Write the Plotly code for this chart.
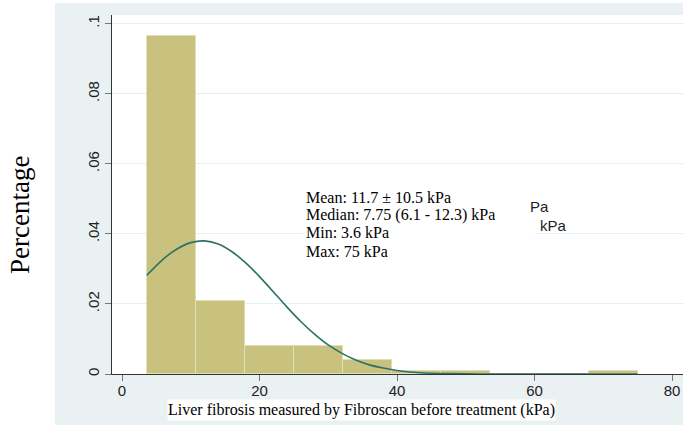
import plotly.graph_objects as go

# ---- data ----
bin_start = 3.6
bin_width = 7.14
bin_counts = [97, 21, 8, 8, 4, 1, 1, 0, 0, 1]

curve_x = [3.6, 6, 8, 10, 12, 14, 16, 18, 20, 22, 24, 26, 28, 30, 32, 34, 36, 38, 40, 44, 48, 52, 56, 60, 65, 70, 75]
curve_y = [0.0282, 0.0328, 0.0357, 0.0375, 0.0380, 0.0371, 0.0349, 0.0317, 0.0278, 0.0235, 0.0191,
           0.0150, 0.0114, 0.0083, 0.0059, 0.0040, 0.0026, 0.0017, 0.0010, 0.0003, 0.0001, 0.00002,
           0.0, 0.0, 0.0, 0.0, 0.0]

x_ticks = [0, 20, 40, 60, 80]
y_ticks = [0, 0.02, 0.04, 0.06, 0.08, 0.1]
y_ticktext = ["0", ".02", ".04", ".06", ".08", ".1"]

stats_lines = ["Mean: 11.7 \u00b1 10.5 kPa", "Median: 7.75 (6.1 - 12.3) kPa", "Min: 3.6 kPa", "Max: 75 kPa"]
x_title = "Liver fibrosis measured by Fibroscan before treatment (kPa)"
y_title = "Percentage"

# ---- derived ----
n_total = sum(bin_counts)
bin_centers = [bin_start + bin_width * (i + 0.5) for i in range(len(bin_counts))]
densities = [c / (n_total * bin_width) for c in bin_counts]

W, H = 683, 425
L, R, T, B = 112, 0, 15, 51
PW, PH = W - L - R, H - T - B


def px2x(px):
    return (px - L) / PW


def py2y(py):
    return (H - B - py) / PH


serif = "Liberation Serif, Times New Roman, serif"
sans = "Liberation Sans, Arial, Helvetica, sans-serif"
bgblue = "#eaf1f3"

fig = go.Figure()
fig.add_trace(go.Bar(
    x=bin_centers, y=densities, width=bin_width,
    marker=dict(color="#c9c27f", line=dict(color="#e3dfb4", width=1)),
    hoverinfo="skip", showlegend=False,
))
fig.add_trace(go.Scatter(
    x=curve_x, y=curve_y, mode="lines",
    line=dict(color="#2a7366", width=1.6, shape="spline", smoothing=0.6),
    hoverinfo="skip", showlegend=False,
))

shapes = [
    dict(type="rect", xref="paper", yref="paper", x0=px2x(55), x1=px2x(W + 5), y0=py2y(H + 5), y1=py2y(3),
         fillcolor=bgblue, line=dict(width=0), layer="below"),
    dict(type="rect", xref="paper", yref="paper", x0=px2x(L), x1=px2x(W + 5), y0=py2y(H - B), y1=py2y(T),
         fillcolor="white", line=dict(width=0), layer="below"),
    dict(type="rect", xref="paper", yref="paper", x0=px2x(303), x1=px2x(535), y0=py2y(265), y1=py2y(182),
         fillcolor="white", line=dict(width=0), layer="above"),
]

annotations = []
for i, line in enumerate(stats_lines):
    annotations.append(dict(
        text=line, xref="paper", yref="paper", x=px2x(304), y=py2y(197 + 18 * i),
        xanchor="left", yanchor="middle", showarrow=False,
        font=dict(family=serif, size=16, color="black"),
    ))
annotations.append(dict(text="Pa", xref="paper", yref="paper", x=px2x(551), y=py2y(207),
                        xanchor="right", yanchor="middle", showarrow=False,
                        font=dict(family=sans, size=15, color="#222")))
annotations.append(dict(text="kPa", xref="paper", yref="paper", x=px2x(538), y=py2y(225),
                        xanchor="left", yanchor="middle", showarrow=False,
                        font=dict(family=sans, size=15, color="#222")))
annotations.append(dict(text=x_title, xref="paper", yref="paper", x=px2x(361.5), y=py2y(409.5),
                        xanchor="center", yanchor="middle", showarrow=False, bgcolor="white",
                        width=387, height=20, borderpad=0,
                        font=dict(family=serif, size=16, color="black")))
annotations.append(dict(text=y_title, xref="paper", yref="paper", x=px2x(20), y=py2y(215),
                        xanchor="center", yanchor="middle", showarrow=False, textangle=-90,
                        font=dict(family=serif, size=27, color="black")))

x0_px, x_scale = 122, 6.875
y_scale = 3503

fig.update_layout(
    width=W, height=H,
    margin=dict(l=L, r=R, t=T, b=B, pad=0),
    paper_bgcolor="white", plot_bgcolor="rgba(0,0,0,0)",
    bargap=0, showlegend=False,
    shapes=shapes, annotations=annotations,
    xaxis=dict(
        range=[(L - x0_px) / x_scale, (W - R - x0_px) / x_scale],
        tickmode="array", tickvals=x_ticks, ticks="outside", ticklen=6, tickcolor="#777",
        ticklabelstandoff=-3,
        showline=True, linecolor="#333", linewidth=1, showgrid=False, zeroline=False,
        tickfont=dict(family=sans, size=15, color="#222"),
    ),
    yaxis=dict(
        range=[0, PH / y_scale],
        tickmode="array", tickvals=y_ticks, ticktext=y_ticktext, tickangle=-90,
        ticks="outside", ticklen=6, tickcolor="#777",
        showline=True, linecolor="#333", linewidth=1, zeroline=False,
        showgrid=True, gridcolor="#e6eef1", gridwidth=1.3,
        tickfont=dict(family=sans, size=15, color="#222"),
    ),
)

fig.write_html("out.html", config={"displayModeBar": False},
               post_script="document.body.style.margin='0';document.body.style.overflow='hidden';")
